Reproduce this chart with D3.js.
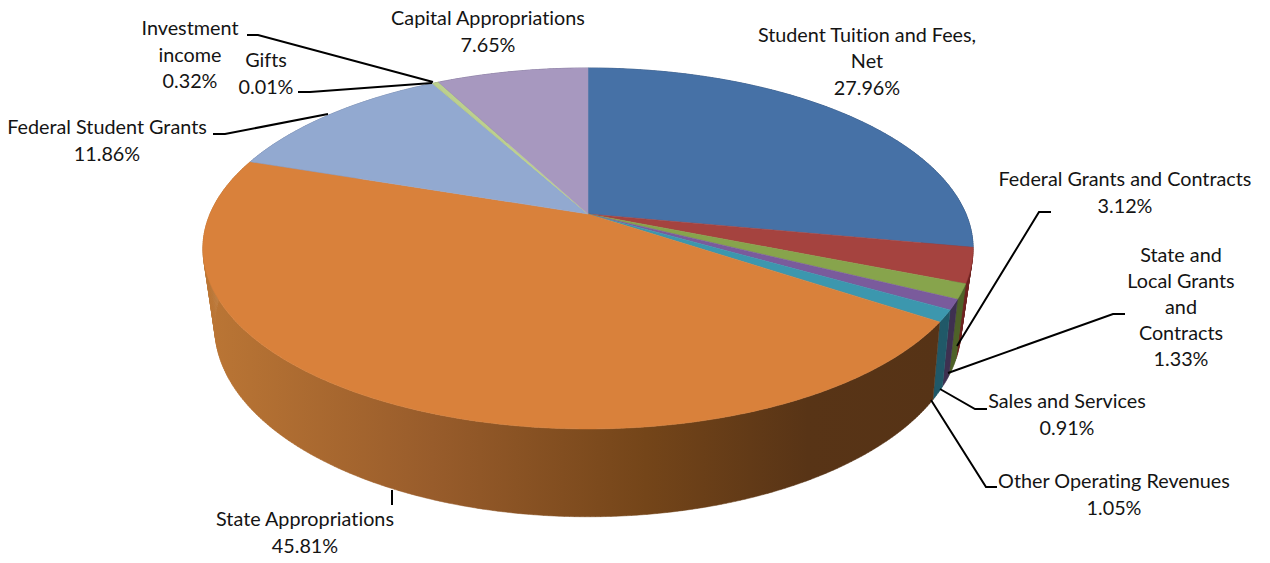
<!DOCTYPE html>
<html lang="en">
<head>
<meta charset="UTF-8">
<title>Revenue sources</title>
<script src="https://d3js.org/d3.v7.min.js"></script>
<style>
  html, body { margin: 0; padding: 0; background: #fff; }
  svg { display: block; }
  text { font-family: Lato, "Open Sans", sans-serif; font-size: 19.8px; fill: #141414; text-anchor: middle; font-variant-ligatures: none; }
</style>
</head>
<body>
<svg width="1270" height="563"></svg>
<script>
// values, clockwise from 12 o'clock
const categories = ["Student Tuition and Fees, Net", "Federal Grants and Contracts", "State and Local Grants and Contracts",
  "Sales and Services", "Other Operating Revenues", "State Appropriations", "Federal Student Grants", "Gifts",
  "Investment income", "Capital Appropriations"];
const values = [27.96, 3.12, 1.33, 0.91, 1.05, 45.81, 11.86, 0.01, 0.32, 7.65];

const topColors = ["#4671a6", "#a5433f", "#87a44c", "#7a5b9c", "#3c97ae", "#d9813b", "#92a9d0", "#bcd08e", "#bcd08e", "#a798bf"];
const wallColors = ["#2a4466", "#6e2320", "#4f6228", "#3f3151", "#215968", "url(#orangeWall)", "#5a6e90", "#6e7d50", "#6e7d50", "#5f5278"];

// label layout: [centre x, first baseline, line step, lines]
const labelLayout = [
  [867, 42, 26.3, ["Student Tuition and Fees,", "Net"]],
  [1125, 186, 26.5, ["Federal Grants and Contracts"]],
  [1181, 262, 26, ["State and", "Local Grants", "and", "Contracts"]],
  [1067, 408, 26.5, ["Sales and Services"]],
  [1114, 488, 26.5, ["Other Operating Revenues"]],
  [305, 526, 26.5, ["State Appropriations"]],
  [107, 134, 26.5, ["Federal Student Grants"]],
  [266, 67, 26.5, ["Gifts"]],
  [190, 35, 26.5, ["Investment", "income"]],
  [488, 25, 26.5, ["Capital Appropriations"]]
];

// leader lines, null where the label has none
const leaders = [
  null,
  [[1051, 212], [1039, 212], [957, 346]],
  [[1125, 314], [1113, 314], [948, 373]],
  [[987, 409], [975, 409], [940, 389]],
  [[997, 487], [986, 487], [931, 400]],
  [[392, 505], [392, 490]],
  [[213, 134], [225, 134], [328, 114]],
  [[298, 92], [310, 92], [432, 83]],
  [[247, 35], [258, 35], [433, 82]],
  null
];

const svg = d3.select("svg");

// perspective disc: circle angle -> screen point
function disc(cx, cy, rx, ry, p) {
  return a => {
    const u = Math.sin(a), v = Math.cos(a), d = 1 + p * v;
    return [cx + rx * u / d, cy - ry * v / d];
  };
}
const topRim = disc(588, 214, 378, 173.9, 0.191);
const bottomRim = disc(588, 286, 364, 180, 0.22);

const pie = d3.pie().sort(null).value(d => d)(values);
const line = d3.line();
const arcAngles = (a0, a1) => {
  const n = Math.max(2, Math.ceil((a1 - a0) * 90));
  return d3.range(n + 1).map(i => a0 + (a1 - a0) * i / n);
};

const defs = svg.append("defs");
const grad = defs.append("linearGradient").attr("id", "orangeWall")
  .attr("gradientUnits", "userSpaceOnUse").attr("x1", 205).attr("x2", 940).attr("y1", 0).attr("y2", 0);
[[0, "#bb7635"], [0.31, "#985c2b"], [0.6, "#744519"], [0.82, "#583416"], [1, "#563316"]].forEach(s =>
  grad.append("stop").attr("offset", s[0]).attr("stop-color", s[1]));

// side walls: one path of thin quads per slice, so the outline follows the silhouette
svg.append("g").selectAll("path").data(pie).join("path")
  .attr("d", s => d3.pairs(arcAngles(s.startAngle, s.endAngle))
    .map(([a, b]) => line([topRim(a), topRim(b), bottomRim(b), bottomRim(a)]) + "Z").join(""))
  .attr("fill", (s, i) => wallColors[i])
  .attr("stroke", (s, i) => wallColors[i])
  .attr("stroke-width", 0.5);

// top face
svg.append("g").selectAll("path").data(pie).join("path")
  .attr("d", s => line([[588, 214], ...arcAngles(s.startAngle, s.endAngle).map(topRim)]) + "Z")
  .attr("fill", (s, i) => topColors[i])
  .attr("stroke", (s, i) => topColors[i])
  .attr("stroke-width", 0.5);

// leaders
svg.append("g").selectAll("path").data(leaders.filter(d => d)).join("path")
  .attr("d", d => line(d))
  .attr("fill", "none").attr("stroke", "#000").attr("stroke-width", 2);

// labels
const fmt = d3.format(".2f");
const labels = svg.append("g").selectAll("text").data(labelLayout).join("text")
  .attr("data-category", (d, i) => categories[i]);
labels.each(function(d, i) {
  const t = d3.select(this);
  d[3].concat(fmt(values[i]) + "%").forEach((str, j) => {
    t.append("tspan").attr("x", d[0]).attr("y", d[1] + j * d[2]).text(str);
  });
});
</script>
</body>
</html>
